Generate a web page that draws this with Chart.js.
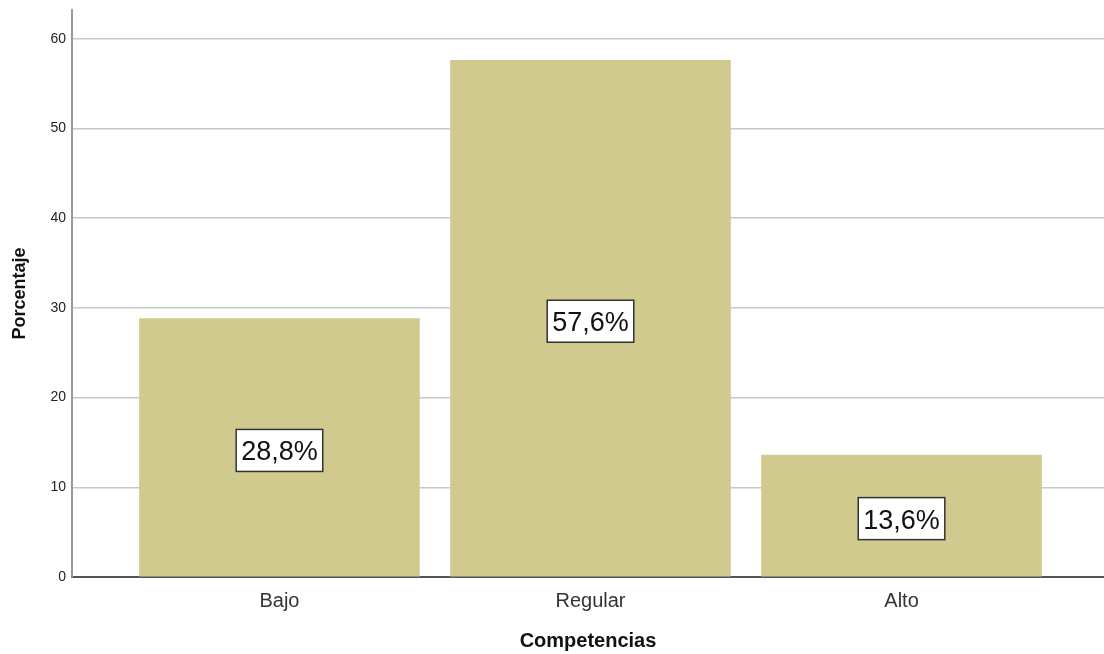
<!DOCTYPE html>
<html>
<head>
<meta charset="utf-8">
<script src="https://cdn.jsdelivr.net/npm/chart.js@4/dist/chart.umd.min.js"></script>
<style>
  html, body { margin: 0; padding: 0; background: #fff; }
  canvas { display: block; }
</style>
</head>
<body>
<canvas id="chart" width="1104" height="654"></canvas>
<script>
const categories = ["Bajo", "Regular", "Alto"];
const percentages = [28.8, 57.6, 13.6];
const yTicks = [0, 10, 20, 30, 40, 50, 60];

const FONT = '"Liberation Sans", Arial, sans-serif';

// boxed percentage label in the middle of every bar
const barLabels = {
  id: "barLabels",
  afterDatasetsDraw(chart) {
    const ctx = chart.ctx;
    const meta = chart.getDatasetMeta(0);
    meta.data.forEach((bar, i) => {
      const text = percentages[i].toFixed(1).replace(".", ",") + "%";
      const cx = bar.x;
      const cy = (bar.y + bar.base) / 2 + 3;
      ctx.save();
      ctx.font = "27px " + FONT;
      const w = ctx.measureText(text).width;
      const bw = w + 10;
      const bh = 42;
      ctx.fillStyle = "#fff";
      ctx.fillRect(cx - bw / 2, cy - bh / 2, bw, bh);
      ctx.strokeStyle = "#333";
      ctx.lineWidth = 1.5;
      ctx.strokeRect(cx - bw / 2, cy - bh / 2, bw, bh);
      ctx.fillStyle = "#111";
      ctx.textAlign = "center";
      ctx.textBaseline = "alphabetic";
      ctx.fillText(text, cx, cy + 10);
      ctx.restore();
    });
  },
};

new Chart(document.getElementById("chart"), {
  type: "bar",
  data: {
    datasets: [
      {
        data: categories.map((c, i) => ({ x: i, y: percentages[i] })),
        backgroundColor: "#d0ca8f",
        borderWidth: 0,
        barThickness: 280,
      },
    ],
  },
  options: {
    responsive: false,
    animation: false,
    layout: { padding: { top: 10, left: 0, right: 0, bottom: 0 } },
    plugins: {
      legend: { display: false },
      tooltip: { enabled: false },
    },
    scales: {
      x: {
        type: "linear",
        offset: false,
        min: -0.667,
        max: 2.651,
        afterBuildTicks: (scale) => {
          scale.ticks = categories.map((c, i) => ({ value: i }));
        },
        afterFit: (scale) => {
          scale.height = 77;
          scale.paddingLeft = 0;
          scale.paddingRight = 0;
        },
        ticks: {
          callback: (v) => categories[v],
          autoSkip: false,
          maxRotation: 0,
          padding: 12,
          color: "#333",
          font: { family: FONT, size: 20 },
        },
        grid: { display: false, drawTicks: false, offset: false },
        border: { display: true, color: "#555", width: 2 },
        title: {
          display: true,
          text: "Competencias",
          color: "#111",
          font: { family: FONT, size: 20, weight: "bold" },
          padding: { top: 0, bottom: 1 },
        },
      },
      y: {
        min: 0,
        max: 63.2,
        afterBuildTicks: (scale) => {
          scale.ticks = yTicks.map((v) => ({ value: v }));
        },
        afterFit: (scale) => {
          scale.width = 72;
          scale.paddingTop = 0;
          scale.paddingBottom = 0;
        },
        ticks: {
          padding: 6,
          color: "#222",
          font: { family: FONT, size: 14 },
        },
        grid: {
          drawTicks: false,
          lineWidth: 1.5,
          color: (ctx) => (ctx.tick && ctx.tick.value === 0 ? "rgba(0,0,0,0)" : "#c8c8c8"),
        },
        border: { display: true, color: "#999", width: 2 },
        title: {
          display: true,
          text: "Porcentaje",
          color: "#111",
          font: { family: FONT, size: 18, weight: "bold" },
          padding: { top: 9, bottom: 0 },
        },
      },
    },
  },
  plugins: [barLabels],
});
</script>
</body>
</html>
